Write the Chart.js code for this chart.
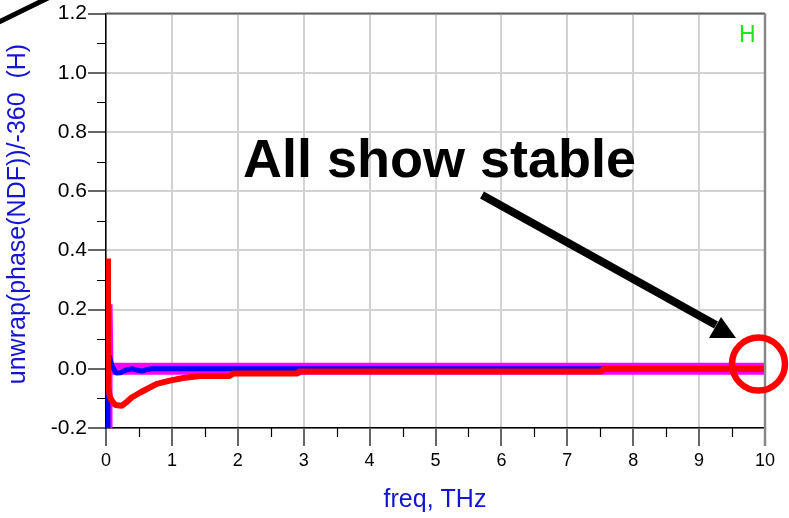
<!DOCTYPE html>
<html>
<head>
<meta charset="utf-8">
<script src="https://cdn.jsdelivr.net/npm/chart.js@4.4.0/dist/chart.umd.min.js"></script>
<style>
  html, body { margin: 0; padding: 0; background: #fff; }
  #wrap { width: 789px; height: 518px; position: relative; }
</style>
</head>
<body>
<div id="wrap"><canvas id="chart"></canvas></div>
<script>
// traces: group delay vs frequency (THz)
const redFreq = [0.03, 0.03, 0.06, 0.09, 0.14, 0.24, 0.31, 0.39, 0.52, 0.77, 0.97, 1.17, 1.43, 1.88, 1.93, 2.91, 2.93, 7.52, 7.55, 10];
const redVal  = [0.373, -0.06, -0.095, -0.108, -0.122, -0.125, -0.113, -0.097, -0.08, -0.051, -0.04, -0.031, -0.024, -0.024, -0.016, -0.016, -0.009, -0.009, 0.0, 0.0];

const blueFreq = [0.02, 0.03, 0.05, 0.09, 0.15, 0.22, 0.3, 0.4, 0.47, 0.55, 0.62, 0.7, 10];
const blueVal  = [-0.2, 0.03, 0.044, 0.01, -0.014, -0.013, -0.004, 0.0, -0.004, -0.008, -0.002, 0.0, 0.0];

const magFreq = [0.065, 0.065, 0.08, 10];
const magVal  = [-0.2, 0.218, 0.0, 0.0];

// wide magenta band along zero
const bandFreq = [0.08, 10];
const bandVal  = [0.0, 0.0];

const xMinorTicks = [0.5, 1.5, 2.5, 3.5, 4.5, 5.5, 6.5, 7.5, 8.5, 9.5];
const yMinorTicks = [-0.1, 0.1, 0.3, 0.5, 0.7, 0.9, 1.1];

const toPoints = (xs, ys) => xs.map((x, i) => ({ x: x, y: ys[i] }));

const FONT = '"Liberation Sans", Arial, sans-serif';

const annotate = {
  id: 'annotate',
  afterDraw(chart) {
    const { ctx, chartArea: a, scales: { x, y } } = chart;
    ctx.save();

    // minor ticks
    ctx.strokeStyle = '#000';
    ctx.lineWidth = 1.2;
    ctx.beginPath();
    yMinorTicks.forEach(v => {
      const py = Math.round(y.getPixelForValue(v)) + 0.5;
      ctx.moveTo(a.left - 9, py);
      ctx.lineTo(a.left, py);
    });
    xMinorTicks.forEach(v => {
      const px = Math.round(x.getPixelForValue(v)) + 0.5;
      ctx.moveTo(px, a.bottom);
      ctx.lineTo(px, a.bottom + 9);
    });
    ctx.stroke();

    // top and right frame
    ctx.strokeStyle = '#606060';
    ctx.lineWidth = 2;
    ctx.beginPath();
    ctx.moveTo(a.left, a.top);
    ctx.lineTo(a.right, a.top);
    ctx.stroke();
    ctx.strokeStyle = '#888';
    ctx.lineWidth = 2.5;
    ctx.beginPath();
    ctx.moveTo(a.right, a.top);
    ctx.lineTo(a.right, a.bottom + 18);
    ctx.stroke();

    // axis titles
    ctx.fillStyle = '#1414d2';
    ctx.font = '25px ' + FONT;
    ctx.textAlign = 'center';
    ctx.textBaseline = 'alphabetic';
    ctx.fillText('freq, THz', 435, 507);

    ctx.save();
    ctx.translate(25, 214);
    ctx.rotate(-Math.PI / 2);
    ctx.fillText('unwrap(phase(NDF))/-360  (H)', 0, 0);
    ctx.restore();

    // trace marker
    ctx.fillStyle = '#1ee61e';
    ctx.font = '23px ' + FONT;
    ctx.textAlign = 'left';
    ctx.fillText('H', 739, 42);

    // callout
    ctx.fillStyle = '#000';
    ctx.font = 'bold 54px ' + FONT;
    ctx.fillText('All show stable', 243, 177);

    ctx.strokeStyle = '#000';
    ctx.lineWidth = 8;
    ctx.beginPath();
    ctx.moveTo(482, 195);
    ctx.lineTo(716, 325);
    ctx.stroke();
    ctx.beginPath();
    ctx.moveTo(736, 338);
    ctx.lineTo(709, 338);
    ctx.lineTo(721, 317);
    ctx.closePath();
    ctx.fill();

    ctx.lineWidth = 5;
    ctx.beginPath();
    ctx.moveTo(-5, 24);
    ctx.lineTo(50, -3);
    ctx.stroke();

    ctx.strokeStyle = '#ff0000';
    ctx.lineWidth = 6.5;
    ctx.beginPath();
    ctx.arc(758.5, 364, 26.5, 0, Math.PI * 2);
    ctx.stroke();

    ctx.restore();
  }
};

new Chart(document.getElementById('chart'), {
  type: 'line',
  data: {
    datasets: [
      {
        data: toPoints(redFreq, redVal),
        borderColor: '#ff0000',
        borderWidth: 6,
        order: 1
      },
      {
        data: toPoints(blueFreq, blueVal),
        borderColor: '#0000ff',
        borderWidth: 5,
        order: 2
      },
      {
        data: toPoints(magFreq, magVal),
        borderColor: '#ff00ff',
        borderWidth: 4.5,
        order: 3
      },
      {
        data: toPoints(bandFreq, bandVal),
        borderColor: '#ff00ff',
        borderWidth: 12,
        order: 4
      }
    ]
  },
  options: {
    responsive: true,
    maintainAspectRatio: false,
    animation: false,
    layout: { padding: { top: 11, right: 24, left: 0, bottom: 0 } },
    elements: {
      point: { radius: 0 },
      line: { tension: 0, borderJoinStyle: 'bevel', borderCapStyle: 'butt' }
    },
    plugins: { legend: { display: false }, tooltip: { enabled: false } },
    scales: {
      x: {
        type: 'linear',
        min: 0,
        max: 10,
        afterFit: s => { s.height = 90; },
        border: { display: true, color: '#000', width: 1.5 },
        grid: { color: '#d2d2d2', lineWidth: 2, tickColor: '#000', tickLength: 18, tickWidth: 1.2 },
        ticks: { stepSize: 1, color: '#000', padding: 4, font: { family: FONT, size: 18 } }
      },
      y: {
        min: -0.2,
        max: 1.2,
        afterFit: s => { s.width = 106; },
        border: { display: true, color: '#000', width: 1.5 },
        grid: { color: '#d2d2d2', lineWidth: 2, tickColor: '#000', tickLength: 18, tickWidth: 1.2 },
        ticks: {
          stepSize: 0.2,
          color: '#000',
          padding: 1,
          font: { family: FONT, size: 21 },
          callback: v => (Math.abs(v) < 1e-9 ? 0 : v).toFixed(1)
        }
      }
    }
  },
  plugins: [annotate]
});
</script>
</body>
</html>
